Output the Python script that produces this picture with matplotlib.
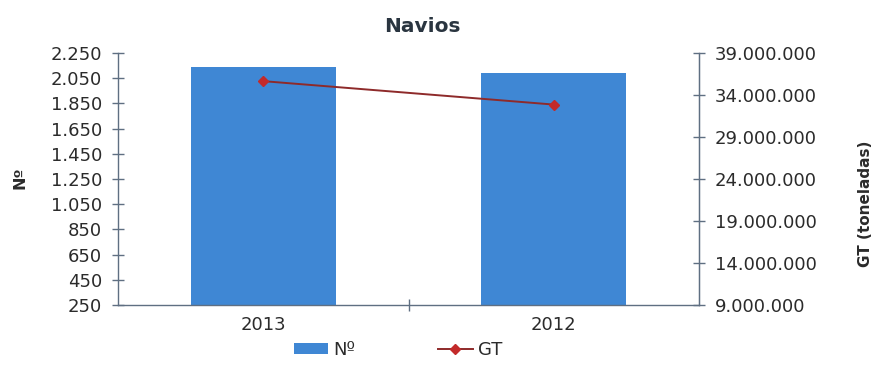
import matplotlib.pyplot as plt
from matplotlib.ticker import FuncFormatter

years = ["2013", "2012"]
num_ships = [2140, 2095]
gt_tonnes = [35650000, 32860000]

left_ticks = [250, 450, 650, 850, 1050, 1250, 1450, 1650, 1850, 2050, 2250]
right_ticks = [9000000, 14000000, 19000000, 24000000, 29000000, 34000000, 39000000]

BAR_COLOR = "#3f87d4"
LINE_COLOR = "#8e2a2a"
MARKER_COLOR = "#c32a2a"
AXIS_COLOR = "#5f6f82"
TEXT_COLOR = "#2b2b2b"
FS = 13


def dotted(v, _pos=None):
    # thousands separated with dots
    return f"{int(round(v)):,}".replace(",", ".")


W, H = 875, 374
fig = plt.figure(figsize=(W / 100, H / 100), dpi=100)
ax = fig.add_axes([118 / W, 1 - 305 / H, (699 - 118) / W, (305 - 53) / H])

x = list(range(len(years)))
bars = ax.bar(x, num_ships, width=0.5, color=BAR_COLOR, label="Nº", zorder=2)
ax.set_xlim(-0.5, len(years) - 0.5)
ax.set_ylim(left_ticks[0], left_ticks[-1])
ax.set_yticks(left_ticks)
ax.yaxis.set_major_formatter(FuncFormatter(dotted))
ax.set_xticks(x)
ax.set_xticklabels(years)
ax.tick_params(axis="x", length=0, pad=8, labelsize=FS, labelcolor=TEXT_COLOR)
ax.set_xticks([0.5], minor=True)
ax.tick_params(axis="x", which="minor", direction="inout", length=9,
               width=1, color=AXIS_COLOR)
ax.tick_params(axis="y", direction="inout", length=9, width=1,
               color=AXIS_COLOR, labelsize=FS, labelcolor=TEXT_COLOR, pad=7)
ax.spines["top"].set_visible(False)
for s in ("left", "bottom", "right"):
    ax.spines[s].set_color(AXIS_COLOR)
    ax.spines[s].set_linewidth(1.0)

ax2 = ax.twinx()
line, = ax2.plot(x, gt_tonnes, color=LINE_COLOR, linewidth=1.4, marker="D",
                 markersize=5, markerfacecolor=MARKER_COLOR,
                 markeredgecolor=MARKER_COLOR, label="GT", zorder=3)
ax2.set_ylim(right_ticks[0], right_ticks[-1])
ax2.set_yticks(right_ticks)
ax2.yaxis.set_major_formatter(FuncFormatter(dotted))
ax2.tick_params(axis="y", direction="inout", length=9, width=1,
                color=AXIS_COLOR, labelsize=FS, labelcolor=TEXT_COLOR, pad=7)
for s in ("top", "left", "bottom"):
    ax2.spines[s].set_visible(False)
ax2.spines["right"].set_color(AXIS_COLOR)

# axis titles and chart title
fig.text(20 / W, 1 - 178 / H, "Nº", rotation=90, ha="center", va="center",
         fontsize=11.5, fontweight="bold", color=TEXT_COLOR)
fig.text(865 / W, 1 - 204 / H, "GT (toneladas)", rotation=90, ha="center",
         va="center", fontsize=11, fontweight="bold", color=TEXT_COLOR)
fig.text(422 / W, 1 - 26 / H, "Navios", ha="center", va="center",
         fontsize=14.5, fontweight="bold", color="#2a3540")

fig.legend([bars, line], ["Nº", "GT"], loc="center", ncol=2,
           bbox_to_anchor=(398 / W, 1 - 350 / H), frameon=False, fontsize=FS,
           handlelength=1.9, handleheight=0.5, handletextpad=0.3,
           columnspacing=4.6, labelcolor=TEXT_COLOR)

fig.savefig("out.png", dpi=100)
